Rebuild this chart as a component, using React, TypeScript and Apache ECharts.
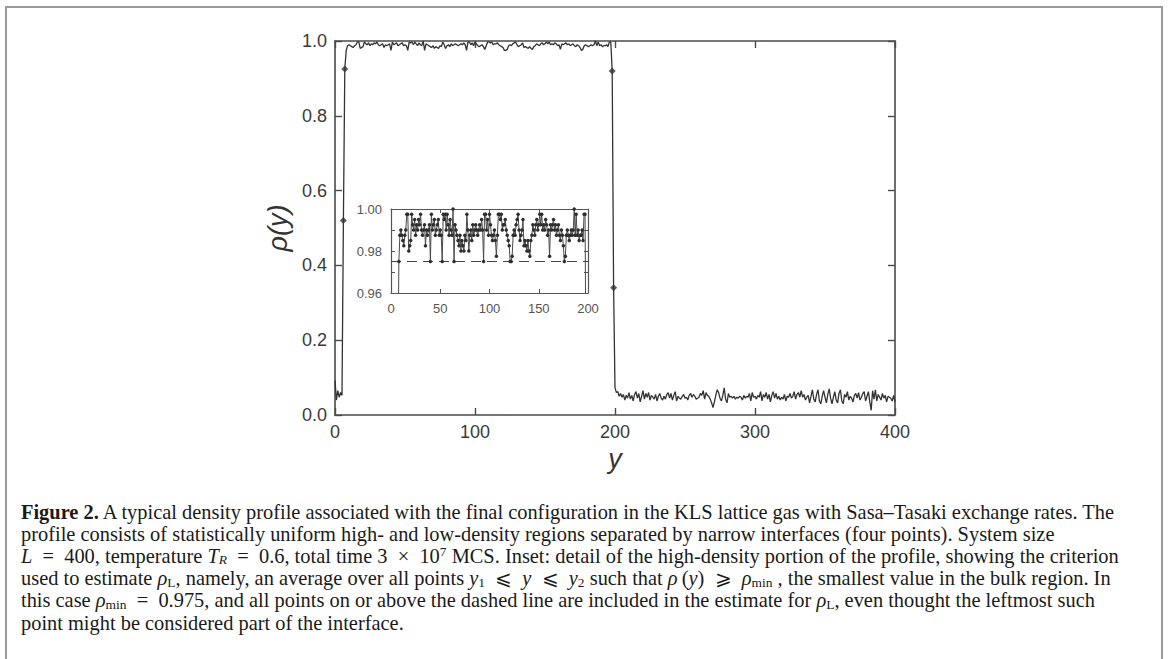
import React, { useEffect, useRef } from "react";
import * as echarts from "echarts";

// ---------------- data ----------------
// rho(y) for y = 0..5 (low-density bulk, left of first interface)
const lowLeft = [0.0925, 0.04, 0.065, 0.0475, 0.06, 0.0525];
// first interface, y = 6, 7
const interfaceLeftY = [6, 7];
const interfaceLeft = [0.52, 0.925];
// high-density bulk, y = 8 .. 197
const highStartY = 8;
const highBulk = [
  0.975, 0.9875, 0.99, 0.9875, 0.985, 0.9825, 0.9875, 0.99, 0.9975, 0.9975,
  0.98, 0.9825, 0.985, 0.9975, 0.9925, 0.99, 0.995, 0.9875, 0.9925, 0.99,
  0.995, 0.9925, 0.9975, 0.99, 0.9875, 0.99, 0.9925, 0.9825, 0.99, 0.9875,
  0.99, 0.9925, 0.975, 0.9975, 0.99, 0.9925, 0.995, 0.9875, 0.99, 0.9925,
  0.995, 0.9875, 0.99, 0.9875, 0.975, 0.9975, 0.995, 0.9975, 0.99, 0.9975,
  0.9925, 0.9875, 0.995, 0.99, 0.9875, 1.0, 0.975, 0.9925, 0.99, 0.9875,
  0.985, 0.9825, 0.9875, 0.98, 0.985, 0.9825, 0.98, 0.9875, 0.985, 0.9975,
  0.99, 0.98, 0.9875, 0.99, 0.985, 0.9925, 0.9875, 0.99, 0.9925, 0.99,
  0.9875, 0.99, 0.9925, 0.99, 0.995, 0.99, 0.975, 0.9975, 0.9975, 0.99,
  0.995, 0.9875, 0.9975, 0.9925, 0.9875, 0.985, 0.9875, 0.99, 0.985, 0.9775,
  0.9875, 0.9975, 0.9975, 0.995, 0.9975, 0.99, 0.9925, 0.9925, 0.995, 0.99,
  0.9875, 0.985, 0.9825, 0.975, 0.975, 0.9775, 0.9875, 0.99, 0.9875, 0.9925,
  0.995, 0.9975, 0.99, 0.985, 0.9875, 0.99, 0.995, 0.9825, 0.985, 0.9825,
  0.98, 0.985, 0.98, 0.9775, 0.985, 0.9875, 0.9925, 0.99, 0.9875, 0.9925,
  0.995, 0.99, 0.9925, 0.9975, 0.9925, 0.9975, 0.99, 0.9925, 0.99, 0.995,
  0.9925, 0.9875, 0.99, 0.9775, 0.9925, 0.99, 0.9925, 0.995, 0.99, 0.9925,
  0.9875, 0.99, 0.9925, 0.9875, 0.985, 0.99, 0.9875, 0.9825, 0.975, 0.9775,
  0.9875, 0.99, 0.9875, 0.985, 0.9875, 0.99, 0.9875, 0.99, 1.0, 0.9875,
  0.9975, 0.9875, 0.99, 0.985, 0.9875, 0.9875, 0.99, 0.985, 0.9975, 0.9975,
];
// second interface, y = 198, 199
const interfaceRightY = [198, 199];
const interfaceRight = [0.92, 0.34];
// low-density bulk, y = 200 .. 400
const lowBulk = [
  0.0725, 0.06, 0.0625, 0.05, 0.0575, 0.0475, 0.055, 0.04, 0.0525, 0.045,
  0.06, 0.0425, 0.0525, 0.0375, 0.055, 0.0625, 0.045, 0.0575, 0.035, 0.05,
  0.065, 0.0425, 0.0575, 0.0475, 0.06, 0.04, 0.0525, 0.0475, 0.0425, 0.055,
  0.0375, 0.05, 0.0575, 0.045, 0.04, 0.05, 0.0425, 0.055, 0.06, 0.045,
  0.0575, 0.04, 0.0525, 0.0625, 0.0375, 0.05, 0.045, 0.0425, 0.05, 0.055,
  0.045, 0.0475, 0.04, 0.0525, 0.0575, 0.0475, 0.055, 0.05, 0.0425, 0.045,
  0.0475, 0.0575, 0.0525, 0.065, 0.0425, 0.06, 0.0525, 0.05, 0.0425, 0.0325,
  0.02, 0.035, 0.0525, 0.0675, 0.06, 0.045, 0.0375, 0.0525, 0.0725, 0.0425,
  0.0325, 0.0575, 0.0475, 0.05, 0.045, 0.05, 0.0425, 0.0475, 0.045, 0.05,
  0.0475, 0.04, 0.0525, 0.045, 0.05, 0.0475, 0.0575, 0.0375, 0.06, 0.0475,
  0.05, 0.0425, 0.0525, 0.0475, 0.0625, 0.0375, 0.055, 0.0475, 0.06, 0.0425,
  0.055, 0.035, 0.0525, 0.0625, 0.045, 0.0575, 0.0425, 0.05, 0.04, 0.0475,
  0.0425, 0.055, 0.0375, 0.05, 0.0475, 0.0575, 0.045, 0.05, 0.0625, 0.0425,
  0.055, 0.06, 0.0475, 0.065, 0.0475, 0.055, 0.04, 0.0475, 0.0525, 0.0325,
  0.05, 0.0675, 0.0425, 0.035, 0.055, 0.0675, 0.0375, 0.03, 0.05, 0.065,
  0.0475, 0.0325, 0.055, 0.07, 0.045, 0.03, 0.0475, 0.0625, 0.04, 0.0325,
  0.0575, 0.0675, 0.0375, 0.03, 0.055, 0.0475, 0.0625, 0.04, 0.05, 0.045,
  0.035, 0.0525, 0.0575, 0.045, 0.06, 0.04, 0.0475, 0.0575, 0.0625, 0.0375,
  0.05, 0.0625, 0.035, 0.0125, 0.065, 0.0425, 0.0675, 0.0375, 0.055, 0.0475,
  0.04, 0.0575, 0.045, 0.0525, 0.035, 0.05, 0.0475, 0.045, 0.0375, 0.0525,
  0.035,
];
const rhoMin = 0.975;

const mainXTicks = [0, 100, 200, 300, 400];
const mainYTicks = [0, 0.2, 0.4, 0.6, 0.8, 1.0];
const insetXTicks = [0, 50, 100, 150, 200];
const insetYLabels = [0.96, 0.98, 1.0];

// caption lines (rich text); \u2002 = en space used for math spacing
const captionLines = [
  "{b|Figure 2.} A typical density profile associated with the final configuration in the KLS lattice gas with Sasa–Tasaki exchange rates. The",
  "profile consists of statistically uniform high- and low-density regions separated by narrow interfaces (four points). System size",
  "{i|L}\u2002=\u2002400, temperature {i|T}{isub|R}\u2002=\u20020.6, total time 3\u2002×\u200210{sup|7} MCS. Inset: detail of the high-density portion of the profile, showing the criterion",
  "used to estimate {i|ρ}{sub|L}, namely, an average over all points {i|y}{sub|1}\u2002⩽\u2002{i|y}\u2002⩽\u2002{i|y}{sub|2} such that {i|ρ}\u2009({i|y})\u2002⩾\u2002{i|ρ}{sub|min} , the smallest value in the bulk region. In",
  "this case {i|ρ}{sub|min}\u2002=\u20020.975, and all points on or above the dashed line are included in the estimate for {i|ρ}{sub|L}, even thought the leftmost such",
  "point might be considered part of the interface.",
];

// ---------------- component ----------------
const SANS = "Liberation Sans, Arial, Helvetica, sans-serif";
const SERIF = "Liberation Serif, Times New Roman, serif";

export default function App() {
  const ref = useRef<HTMLDivElement>(null);

  useEffect(() => {
    if (!ref.current) return;
    const chart = echarts.init(ref.current, null, { renderer: "svg" });

    const profileValues = [
      ...lowLeft,
      ...interfaceLeft,
      ...highBulk,
      ...interfaceRight,
      ...lowBulk,
    ];
    const profile = profileValues.map((v, i) => [i, v]);
    const interfacePts = [
      ...interfaceLeftY.map((y, i) => [y, interfaceLeft[i]]),
      ...interfaceRightY.map((y, i) => [y, interfaceRight[i]]),
    ];
    const insetVals = [
      ...interfaceLeftY.map((y, i) => [y, interfaceLeft[i]]),
      ...highBulk.map((v, i) => [highStartY + i, v]),
      ...interfaceRightY.map((y, i) => [y, interfaceRight[i]]),
    ];

    const axisCol = "#4a4a4a";
    const labelCol = "#3a3a3a";

    const mainX = {
      type: "value",
      min: mainXTicks[0],
      max: mainXTicks[mainXTicks.length - 1],
      interval: mainXTicks[1] - mainXTicks[0],
    };
    const mainY = {
      type: "value",
      min: mainYTicks[0],
      max: mainYTicks[mainYTicks.length - 1],
      interval: mainYTicks[1] - mainYTicks[0],
    };
    const insetX = {
      type: "value",
      min: insetXTicks[0],
      max: insetXTicks[insetXTicks.length - 1],
      interval: insetXTicks[1] - insetXTicks[0],
    };
    const insetY = {
      type: "value",
      min: insetYLabels[0],
      max: insetYLabels[insetYLabels.length - 1],
      interval: 0.01,
    };

    const mainLine = { onZero: false, lineStyle: { color: axisCol, width: 1.6 } };
    const mainTick = { inside: true, length: 7, lineStyle: { color: axisCol, width: 1.4 } };
    const insetLine = { onZero: false, lineStyle: { color: "#555", width: 1.2 } };
    const insetTick = { inside: true, length: 4, lineStyle: { color: "#555", width: 1 } };

    const CF = 20.4;
    const SF = 13.5;
    const LH = 22;
    const ink = "#1a1a1a";
    const captionGraphics = captionLines.map((t, k) => ({
      type: "text",
      x: 21,
      y: 511.5 + k * 22.2,
      style: {
        text: t,
        fontFamily: SERIF,
        fontSize: CF,
        fill: ink,
        verticalAlign: "middle",
        lineHeight: LH,
        rich: {
          b: { fontFamily: SERIF, fontSize: CF, fontWeight: "bold", fill: ink, lineHeight: LH },
          i: { fontFamily: SERIF, fontSize: CF, fontStyle: "italic", fill: ink, lineHeight: LH },
          sub: { fontFamily: SERIF, fontSize: SF, fill: ink, lineHeight: 10, verticalAlign: "bottom" },
          isub: { fontFamily: SERIF, fontSize: SF, fontStyle: "italic", fill: ink, lineHeight: 10, verticalAlign: "bottom" },
          sup: { fontFamily: SERIF, fontSize: SF, fill: ink, lineHeight: 15, verticalAlign: "top" },
        },
      },
    }));

    const option = {
      animation: false,
      backgroundColor: "#ffffff",
      grid: [
        { left: 335, top: 41, width: 560, height: 374, show: false },
        { left: 391, top: 209, width: 197, height: 84, show: true, backgroundColor: "#ffffff", borderWidth: 0 },
      ],
      xAxis: [
        {
          ...mainX,
          gridIndex: 0,
          position: "bottom",
          name: "y",
          nameLocation: "middle",
          nameGap: 26,
          nameTextStyle: { fontFamily: SANS, fontStyle: "italic", fontSize: 27, color: "#333" },
          axisLine: mainLine,
          axisTick: mainTick,
          axisLabel: { margin: 8, fontFamily: SANS, fontSize: 18, color: labelCol },
          splitLine: { show: false },
        },
        {
          ...mainX,
          gridIndex: 0,
          position: "top",
          axisLine: mainLine,
          axisTick: mainTick,
          axisLabel: { show: false },
          splitLine: { show: false },
        },
        {
          ...insetX,
          gridIndex: 1,
          position: "bottom",
          axisLine: insetLine,
          axisTick: insetTick,
          axisLabel: { margin: 9, fontFamily: SANS, fontSize: 13, color: "#555" },
          splitLine: { show: false },
        },
        {
          ...insetX,
          gridIndex: 1,
          position: "top",
          axisLine: insetLine,
          axisTick: insetTick,
          axisLabel: { show: false },
          splitLine: { show: false },
        },
      ],
      yAxis: [
        {
          ...mainY,
          gridIndex: 0,
          position: "left",
          name: "ρ(y)",
          nameLocation: "middle",
          nameGap: 44,
          nameRotate: 90,
          nameTextStyle: { fontFamily: SANS, fontStyle: "italic", fontSize: 27, color: "#333" },
          axisLine: mainLine,
          axisTick: mainTick,
          axisLabel: {
            margin: 8,
            fontFamily: SANS,
            fontSize: 18,
            color: labelCol,
            formatter: (v: number) => v.toFixed(1),
          },
          splitLine: { show: false },
        },
        {
          ...mainY,
          gridIndex: 0,
          position: "right",
          axisLine: mainLine,
          axisTick: mainTick,
          axisLabel: { show: false },
          splitLine: { show: false },
        },
        {
          ...insetY,
          gridIndex: 1,
          position: "left",
          axisLine: insetLine,
          axisTick: insetTick,
          axisLabel: {
            margin: 9,
            fontFamily: SANS,
            fontSize: 13,
            color: "#555",
            formatter: (v: number) => (Math.round(v * 100) % 2 === 0 ? v.toFixed(2) : ""),
          },
          splitLine: { show: false },
        },
        {
          ...insetY,
          gridIndex: 1,
          position: "right",
          axisLine: insetLine,
          axisTick: insetTick,
          axisLabel: { show: false },
          splitLine: { show: false },
        },
      ],
      series: [
        {
          type: "line",
          xAxisIndex: 0,
          yAxisIndex: 0,
          data: profile,
          showSymbol: false,
          lineStyle: { color: "#333", width: 1.3 },
          silent: true,
        },
        {
          type: "scatter",
          xAxisIndex: 0,
          yAxisIndex: 0,
          data: interfacePts,
          symbol: "diamond",
          symbolSize: 7,
          itemStyle: { color: "#333" },
          silent: true,
        },
        {
          type: "line",
          xAxisIndex: 2,
          yAxisIndex: 2,
          data: [
            [insetXTicks[0], rhoMin],
            [insetXTicks[insetXTicks.length - 1], rhoMin],
          ],
          showSymbol: false,
          lineStyle: { color: "#444", width: 1, type: [10, 6] },
          silent: true,
        },
        {
          type: "line",
          xAxisIndex: 2,
          yAxisIndex: 2,
          data: insetVals,
          showSymbol: true,
          symbol: "circle",
          symbolSize: 3.5,
          clip: true,
          lineStyle: { color: "#4a4a4a", width: 1 },
          itemStyle: { color: "#2e2e2e" },
          silent: true,
        },
      ],
      graphic: [
        {
          type: "rect",
          shape: { x: 6, y: 7, width: 1156, height: 700 },
          style: { fill: "none", stroke: "#9a9a9a", lineWidth: 2 },
          silent: true,
        },
        ...captionGraphics,
      ],
    };

    chart.setOption(option as any);
    return () => chart.dispose();
  }, []);

  return (
    <div
      ref={ref}
      style={{ position: "absolute", left: 0, top: 0, width: 1168, height: 659, background: "#fff" }}
    />
  );
}
